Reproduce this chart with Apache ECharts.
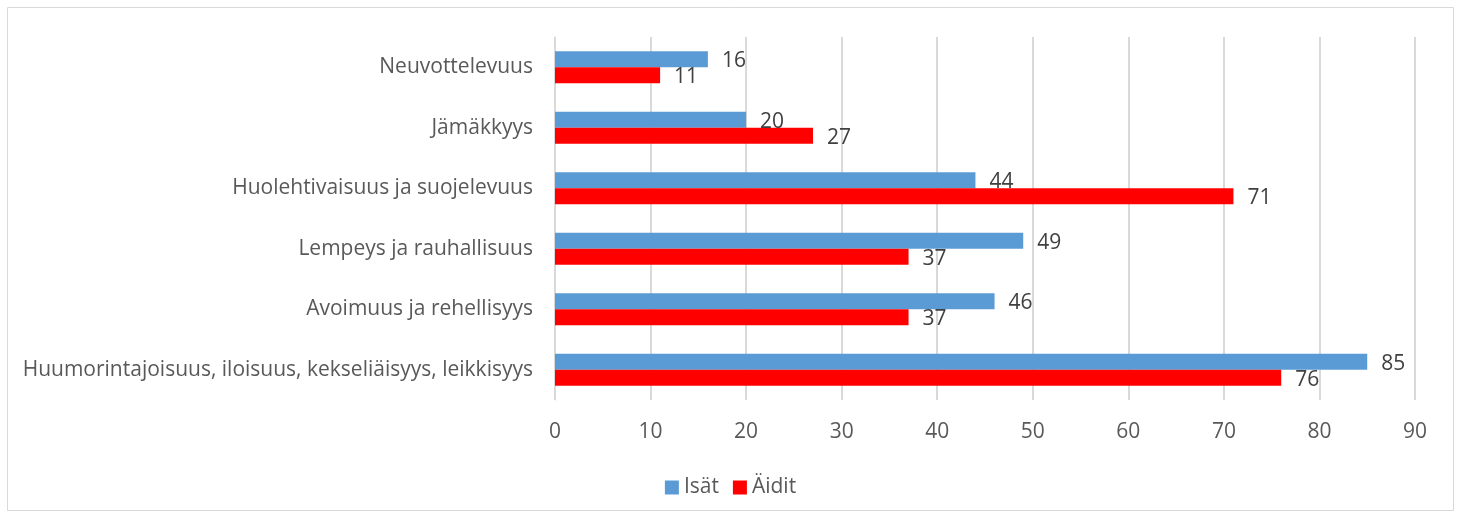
<!DOCTYPE html>
<html>
<head>
<meta charset="utf-8">
<script src="https://cdn.jsdelivr.net/npm/echarts@6/dist/echarts.min.js"></script>
<style>html,body{margin:0;padding:0;background:#fff}#c{width:1461px;height:518px}</style>
</head>
<body>
<div id="c"></div>
<script>
const categories = ["Neuvottelevuus", "Jämäkkyys", "Huolehtivaisuus ja suojelevuus", "Lempeys ja rauhallisuus", "Avoimuus ja rehellisyys", "Huumorintajoisuus, iloisuus, kekseliäisyys, leikkisyys"];
const isat = [16, 20, 44, 49, 46, 85];
const aidit = [11, 27, 71, 37, 37, 76];
const xTicks = [0, 10, 20, 30, 40, 50, 60, 70, 80, 90];

const FONT = "'Open Sans', sans-serif";
const chart = echarts.init(document.getElementById('c'), null, {renderer: 'canvas'});
const labelStyle = {show: true, position: 'right', distance: 14, offset: [0, 2], color: '#404040', fontSize: 21, fontFamily: FONT};
chart.setOption({
  animation: false,
  textStyle: {fontFamily: FONT},
  graphic: [{type: 'rect', shape: {x: 7.5, y: 7.5, width: 1446, height: 503}, style: {fill: 'none', stroke: '#d9d9d9', lineWidth: 1}, silent: true}],
  grid: {left: 555, right: 46, top: 37, bottom: 118, containLabel: false},
  legend: {
    data: ['Isät', 'Äidit'], bottom: 15, left: 'center', itemWidth: 14, itemHeight: 14, itemGap: 14,
    icon: 'rect', textStyle: {color: '#595959', fontSize: 21, fontFamily: FONT}
  },
  xAxis: {
    type: 'value', min: 0, max: 90, interval: 10,
    axisLine: {show: false}, axisTick: {show: false},
    splitLine: {lineStyle: {color: '#d9d9d9', width: 2}},
    axisLabel: {color: '#595959', fontSize: 21, fontFamily: FONT, margin: 22,
      formatter: v => xTicks.includes(v) ? String(v) : ''}
  },
  yAxis: {
    type: 'category', data: categories, inverse: true,
    axisLine: {show: true, lineStyle: {color: '#d9d9d9', width: 1}},
    axisTick: {show: false},
    axisLabel: {color: '#595959', fontSize: 21, fontFamily: FONT, margin: 22}
  },
  series: [
    {name: 'Isät', type: 'bar', data: isat, barWidth: 16, barGap: '0%', itemStyle: {color: '#5b9bd5'}, label: labelStyle},
    {name: 'Äidit', type: 'bar', data: aidit, barWidth: 16, barGap: '0%', itemStyle: {color: '#ff0000'}, label: labelStyle}
  ]
});
</script>
</body>
</html>
